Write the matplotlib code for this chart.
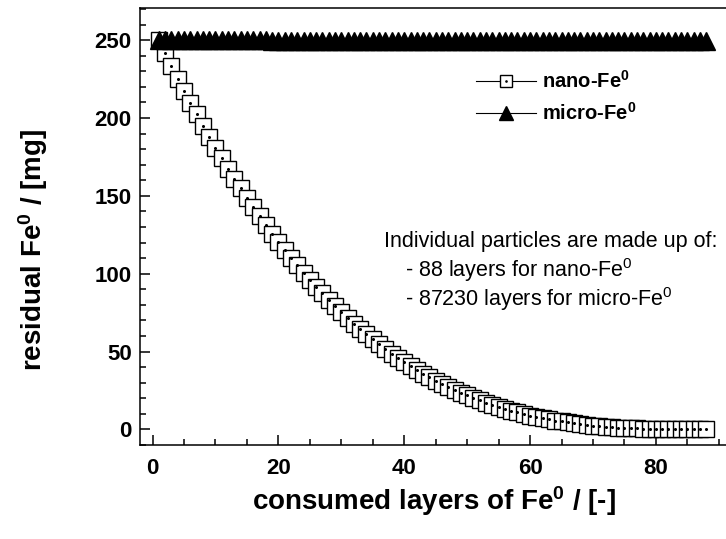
import matplotlib
matplotlib.use("Agg")
import matplotlib.pyplot as plt
from matplotlib.ticker import MultipleLocator
from matplotlib.legend_handler import HandlerTuple

plt.rcParams['font.family'] = ['Liberation Sans', 'DejaVu Sans']
plt.rcParams['mathtext.fontset'] = 'custom'
plt.rcParams['mathtext.rm'] = 'Liberation Sans'
plt.rcParams['mathtext.bf'] = 'Liberation Sans:bold'
plt.rcParams['mathtext.it'] = 'Liberation Sans:italic'

# consumed layers (x) for both series
layers = list(range(1, 89))

nano_fe = [
    250.0, 241.6, 233.3, 225.3, 217.4, 209.8, 202.3, 195.0, 187.8, 180.9,
    174.1, 167.5, 161.0, 154.8, 148.7, 142.7, 136.9, 131.3, 125.8, 120.5,
    115.4, 110.3, 105.5, 100.7, 96.2, 91.7, 87.4, 83.3, 79.2, 75.3,
    71.6, 67.9, 64.4, 61.0, 57.8, 54.6, 51.6, 48.7, 45.9, 43.2,
    40.6, 38.1, 35.7, 33.4, 31.3, 29.2, 27.2, 25.3, 23.5, 21.8,
    20.1, 18.6, 17.1, 15.7, 14.4, 13.2, 12.0, 10.9, 9.9, 8.9,
    8.1, 7.2, 6.4, 5.7, 5.1, 4.5, 3.9, 3.4, 2.9, 2.5,
    2.1, 1.8, 1.5, 1.2, 1.0, 0.8, 0.6, 0.5, 0.4, 0.3,
    0.2, 0.1, 0.1, 0.0, 0.0, 0.0, 0.0, 0.0,
]

micro_fe = [
    250.0, 250.0, 250.0, 250.0, 250.0, 250.0,
    249.9, 249.9, 249.9, 249.9, 249.9, 249.9, 249.9, 249.9, 249.9, 249.9, 249.9, 249.9,
    249.8, 249.8, 249.8, 249.8, 249.8, 249.8, 249.8, 249.8, 249.8, 249.8, 249.8, 249.8,
    249.7, 249.7, 249.7, 249.7, 249.7, 249.7, 249.7, 249.7, 249.7, 249.7, 249.7,
    249.6, 249.6, 249.6, 249.6, 249.6, 249.6, 249.6, 249.6, 249.6, 249.6, 249.6, 249.6,
    249.5, 249.5, 249.5, 249.5, 249.5, 249.5, 249.5, 249.5, 249.5, 249.5, 249.5,
    249.4, 249.4, 249.4, 249.4, 249.4, 249.4, 249.4, 249.4, 249.4, 249.4, 249.4, 249.4,
    249.3, 249.3, 249.3, 249.3, 249.3, 249.3, 249.3, 249.3, 249.3, 249.3, 249.3, 249.3,
]

series_labels = [r'nano-Fe$^\mathbf{0}$', r'micro-Fe$^\mathbf{0}$']
x_label = r'consumed layers of Fe$^\mathbf{0}$ / [-]'
y_label = r'residual Fe$^\mathbf{0}$ / [mg]'
note_lines = ['Individual particles are made up of:',
              r'- 88 layers for nano-Fe$^\mathrm{0}$',
              r'- 87230 layers for micro-Fe$^\mathrm{0}$']

W, H = 726, 539
fig = plt.figure(figsize=(W / 100, H / 100), dpi=100)
ax = fig.add_axes([140 / W, (H - 445) / H, (W - 140) / W + 0.01, 437 / H])

nano_line, = ax.plot(layers, nano_fe, color='black', lw=0.8, marker='s', markersize=11,
                     markerfacecolor='white', markeredgecolor='black', markeredgewidth=1.0,
                     zorder=2)
nano_dots, = ax.plot(layers, nano_fe, linestyle='none', marker='o', markersize=1.2,
                     color='black', zorder=3)
micro_line, = ax.plot(layers, micro_fe, color='black', lw=0.8, marker='^', markersize=13,
                      markerfacecolor='black', markeredgecolor='black', zorder=4)

ax.set_xlim(-2, 92.3)
ax.set_ylim(-10, 270.7)
ax.xaxis.set_major_locator(MultipleLocator(20))
ax.xaxis.set_minor_locator(MultipleLocator(5))
ax.yaxis.set_major_locator(MultipleLocator(50))
ax.yaxis.set_minor_locator(MultipleLocator(10))
ax.tick_params(which='both', direction='in', width=1.1, top=False, right=False)
ax.tick_params(which='major', length=7, labelsize=16, pad=6)
ax.tick_params(axis='x', which='major', pad=9)
ax.tick_params(which='minor', length=4)
for lab in ax.get_xticklabels() + ax.get_yticklabels():
    lab.set_fontweight('bold')
for s in ['left', 'bottom', 'top']:
    ax.spines[s].set_linewidth(1.1)
ax.spines['right'].set_visible(False)

leg = ax.legend([(nano_line, nano_dots), micro_line], series_labels,
                handler_map={tuple: HandlerTuple(ndivide=1, pad=0)},
                loc='upper left', bbox_to_anchor=(476 / W, 1 - 70 / H),
                bbox_transform=fig.transFigure, frameon=False,
                prop={'weight': 'bold', 'size': 14.5}, handlelength=3.0,
                handletextpad=0.3, labelspacing=0.5, markerscale=0.75,
                borderpad=0, borderaxespad=0)

fig.text(384 / W, 1 - 247.5 / H, note_lines[0], fontsize=15.5, va='baseline', ha='left')
fig.text(405 / W, 1 - 277 / H, note_lines[1], fontsize=15.5, va='baseline', ha='left')
fig.text(405 / W, 1 - 306 / H, note_lines[2], fontsize=15.5, va='baseline', ha='left')

fig.text(434 / W, 1 - 510 / H, x_label, fontsize=20, fontweight='bold',
         va='baseline', ha='center')
fig.text(33 / W, 1 - 250 / H, y_label, fontsize=20, fontweight='bold',
         va='center', ha='center', rotation=90)

fig.savefig('out.png', dpi=100)
